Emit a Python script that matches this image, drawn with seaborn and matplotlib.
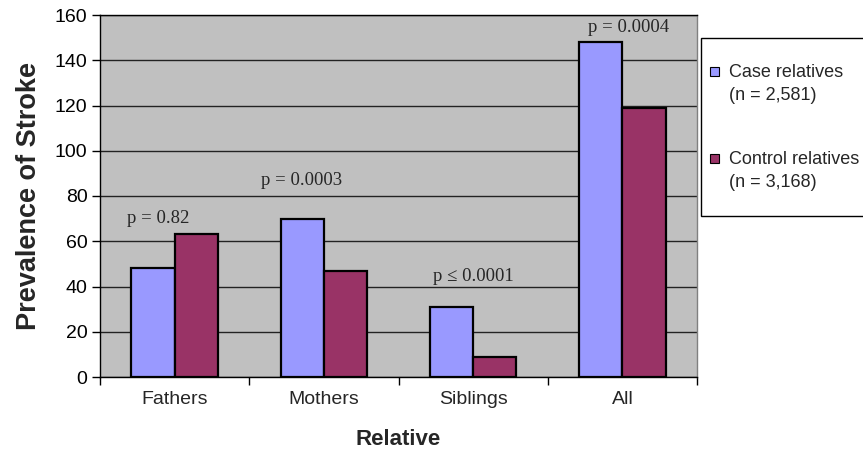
import matplotlib
matplotlib.use("Agg")
import matplotlib.pyplot as plt
import seaborn as sns
import pandas as pd
from matplotlib.patches import Rectangle, Patch
from matplotlib.legend_handler import HandlerPatch

# ---- data ----
relatives = ["Fathers", "Mothers", "Siblings", "All"]
case_vals = [48, 70, 31, 148]
control_vals = [63, 47, 9, 119]
series_names = ["Case relatives", "Control relatives"]
series_n = ["(n = 2,581)", "(n = 3,168)"]
p_labels = ["p = 0.82", "p = 0.0003", "p \u2264 0.0001", "p = 0.0004"]
y_ticks = [0, 20, 40, 60, 80, 100, 120, 140, 160]

# annotation placement (layout only)
p_dx = [-0.11, -0.15, 0.0, 0.04]
p_y = [68, 85, 42.5, 152.7]

colors = ["#9999FF", "#993366"]

df = pd.DataFrame({
    "Relative": relatives * 2,
    "Prevalence": case_vals + control_vals,
    "Group": [series_names[0]] * 4 + [series_names[1]] * 4,
})

sns.set_style("white")
plt.rcParams["font.family"] = ["Liberation Sans", "DejaVu Sans"]

fig = plt.figure(figsize=(8.63, 4.57), dpi=100)
ax = fig.add_axes([100 / 863, 1 - 377 / 457, 597 / 863, 362 / 457])

sns.barplot(data=df, x="Relative", y="Prevalence", hue="Group", order=relatives,
            hue_order=series_names, palette=colors, width=0.58, gap=0,
            edgecolor="black", linewidth=1.6, saturation=1, ax=ax, legend=False)

ax.set_facecolor("#C0C0C0")
ax.set_ylim(0, 160)
ax.set_xlim(-0.5, 3.5)
ax.set_yticks(y_ticks)
ax.yaxis.grid(True, color="#222222", linewidth=1.0)
ax.set_axisbelow(True)

for s in ["left", "bottom", "top"]:
    ax.spines[s].set_color("black")
    ax.spines[s].set_linewidth(1.0)
ax.spines["right"].set_color("#808080")
ax.spines["right"].set_linewidth(1.0)

ax.tick_params(axis="y", direction="out", length=6, width=1, colors="black",
               labelsize=14, left=True, pad=3)
ax.set_xticks(range(len(relatives)))
ax.set_xticklabels(relatives)
ax.set_xticks([i - 0.5 for i in range(len(relatives) + 1)], minor=True)
ax.tick_params(axis="x", which="major", length=0, labelsize=14, pad=10)
ax.tick_params(axis="x", which="minor", direction="out", length=6, width=1,
               colors="black", bottom=True)

ax.set_xlabel("Relative", fontsize=16, fontweight="bold", labelpad=15)
ax.set_ylabel("Prevalence of Stroke", fontsize=19.5, fontweight="bold", labelpad=9)

for i, lab in enumerate(p_labels):
    ax.text(i + p_dx[i], p_y[i], lab, ha="center", va="baseline",
            fontsize=13.5, family=["Liberation Serif", "DejaVu Serif"])

# legend
def square(legend, orig_handle, xdescent, ydescent, width, height, fontsize):
    s = 6.8
    shift = 9.0
    return Rectangle((-xdescent, -ydescent + height / 2 - s / 2 + shift), s, s)

fig.patches.append(Rectangle((701 / 863, 1 - 216 / 457), 180 / 863, 178 / 457,
                             transform=fig.transFigure, facecolor="white",
                             edgecolor="black", linewidth=1.0, zorder=0))

handles = [Patch(facecolor=c, edgecolor="black", linewidth=0.8) for c in colors]
labels = [f"{a}\n{b}" for a, b in zip(series_names, series_n)]
leg = fig.legend(handles, labels, loc="upper left",
                 bbox_to_anchor=(701 / 863, 1 - 55 / 457),
                 bbox_transform=fig.transFigure, borderaxespad=0,
                 handler_map={Patch: HandlerPatch(patch_func=square)},
                 fontsize=13, frameon=False,
                 handlelength=0.55, handleheight=0.7, handletextpad=0.5,
                 labelspacing=2.6, borderpad=0.5)
for t in leg.get_texts():
    t.set_linespacing(1.45)

fig.savefig("out.png", dpi=100, facecolor="white")
